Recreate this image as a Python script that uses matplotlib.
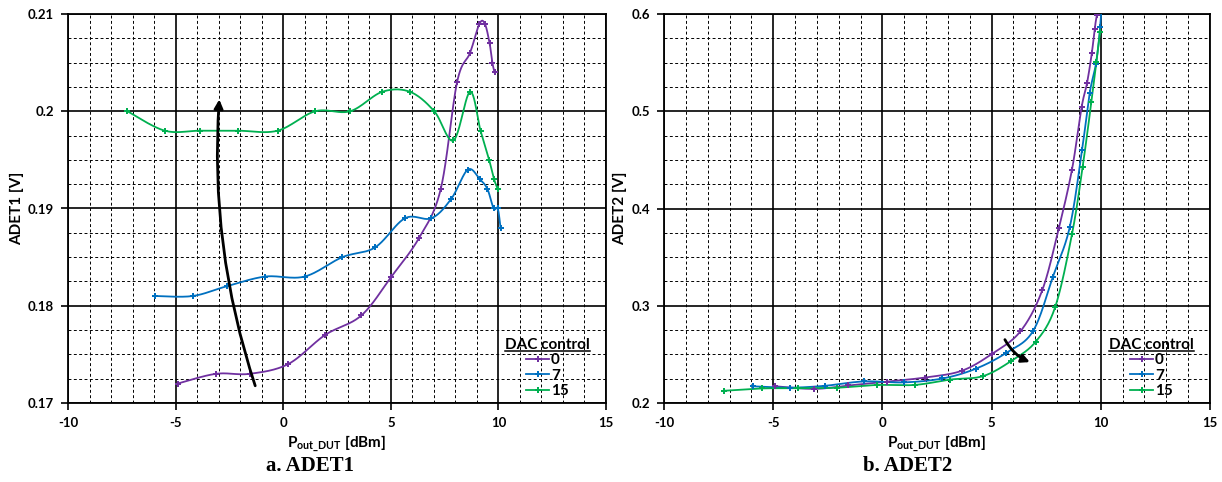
import numpy as np
import matplotlib
matplotlib.use('Agg')
import matplotlib.pyplot as plt
from matplotlib.patches import FancyArrowPatch
from matplotlib.lines import Line2D
from matplotlib.ticker import MultipleLocator, FixedLocator, FixedFormatter

plt.rcParams['font.family'] = ['Lato', 'DejaVu Sans']
plt.rcParams['font.weight'] = 'bold'
plt.rcParams['axes.unicode_minus'] = False
plt.rcParams['mathtext.fontset'] = 'custom'
plt.rcParams['mathtext.rm'] = 'Lato'
plt.rcParams['mathtext.bf'] = 'Lato:bold'

# series
dac_labels = ['0', '7', '15']
colors = ['#7030A0', '#0070C0', '#00B050']

p_dac0 = [-4.90, -3.13, -1.56, 0.23, 1.95, 3.63, 5.03, 6.32, 7.32, 8.08, 8.68, 9.12, 9.37, 9.59, 9.72, 9.82]
p_dac7 = [-5.94, -4.21, -2.63, -0.84, 0.99, 2.75, 4.27, 5.66, 6.89, 7.81, 8.58, 9.14, 9.49, 9.78, 9.97, 10.1]
p_dac15 = [-7.24, -5.50, -3.87, -2.09, -0.26, 1.49, 3.11, 4.60, 5.89, 7.02, 7.91, 8.68, 9.17, 9.57, 9.80, 9.97]

adet1_dac0 = [0.172, 0.173, 0.173, 0.174, 0.177, 0.179, 0.183, 0.187, 0.192, 0.203, 0.206, 0.209, 0.209, 0.207, 0.205, 0.204]
adet1_dac7 = [0.181, 0.181, 0.182, 0.183, 0.183, 0.185, 0.186, 0.189, 0.189, 0.191, 0.194, 0.193, 0.192, 0.190, 0.190, 0.188]
adet1_dac15 = [0.200, 0.198, 0.198, 0.198, 0.198, 0.200, 0.200, 0.202, 0.202, 0.200, 0.197, 0.202, 0.198, 0.195, 0.193, 0.192]

adet2_dac0 = [0.2172, 0.2145, 0.218, 0.222, 0.2262, 0.2331, 0.2507, 0.2737, 0.316, 0.380, 0.440, 0.504, 0.529, 0.560, 0.585, 0.599]
adet2_dac7 = [0.2172, 0.2158, 0.2177, 0.2222, 0.2212, 0.2252, 0.2352, 0.2514, 0.2737, 0.330, 0.381, 0.460, 0.5186, 0.549, 0.587, 0.630]
adet2_dac15 = [0.2126, 0.2150, 0.2152, 0.2157, 0.2185, 0.2186, 0.2241, 0.2276, 0.2431, 0.263, 0.2986, 0.3735, 0.443, 0.510, 0.551, 0.582]

xticks = [-10, -5, 0, 5, 10, 15]
adet1_ticks = [0.17, 0.18, 0.19, 0.20, 0.21]
adet1_ticklabels = ['0.17', '0.18', '0.19', '0.2', '0.21']
adet2_ticks = [0.2, 0.3, 0.4, 0.5, 0.6]
adet2_ticklabels = ['0.2', '0.3', '0.4', '0.5', '0.6']


def smooth(x, y, n=24):
    # Catmull-Rom curve through the points, like Excel's smoothed line
    pts = np.column_stack([x, y])
    pts = np.vstack([pts[0], pts, pts[-1]])
    t = np.linspace(0, 1, n, endpoint=False)[:, None]
    segs = []
    for i in range(1, len(pts) - 2):
        a, b, c, d = pts[i - 1], pts[i], pts[i + 1], pts[i + 2]
        segs.append(0.5 * (2 * b + (c - a) * t + (2 * a - 5 * b + 4 * c - d) * t ** 2
                           + (-a + 3 * b - 3 * c + d) * t ** 3))
    segs.append(pts[-2][None])
    out = np.vstack(segs)
    return out[:, 0], out[:, 1]


def style_axes(ax, yticks, ylabels, ylim, yminor):
    ax.set_xlim(-10, 15)
    ax.set_ylim(*ylim)
    ax.xaxis.set_major_locator(FixedLocator(xticks))
    ax.xaxis.set_minor_locator(MultipleLocator(1))
    ax.yaxis.set_major_locator(FixedLocator(yticks))
    ax.yaxis.set_major_formatter(FixedFormatter(ylabels))
    ax.yaxis.set_minor_locator(MultipleLocator(yminor))
    ax.grid(which='major', color='black', lw=1.2, ls='-')
    ax.grid(which='minor', color='black', lw=0.7, ls=(0, (3, 2.5)))
    ax.set_axisbelow(True)
    ax.tick_params(which='major', direction='out', length=5, width=1.2, labelsize=9.5, pad=5)
    ax.tick_params(which='minor', length=0)
    for s in ax.spines.values():
        s.set_linewidth(1.3)
        s.set_color('black')
    ax.set_xlabel(r'$\mathbf{P_{out\_DUT}}$ [dBm]', fontsize=11, fontweight='bold', labelpad=3)


def draw_series(ax, xs, ys):
    handles = []
    for x, y, c, lab in zip(xs, ys, colors, dac_labels):
        sx, sy = smooth(x, y)
        ax.plot(sx, sy, color=c, lw=1.3, zorder=3)
        ax.plot(x, y, ls='none', marker='P', ms=5, color=c, mew=0, zorder=4)
        handles.append(Line2D([], [], color=c, lw=1.3, marker='P', ms=5, mew=0, label=lab))
    leg = ax.legend(handles=handles, loc='lower right', bbox_to_anchor=(0.99, -0.015),
                    frameon=False, title='DAC control', handlelength=1.5, handletextpad=0.1,
                    labelspacing=0.1, borderpad=0.2, prop={'size': 11, 'weight': 'bold'},
                    title_fontproperties={'size': 11, 'weight': 'bold'})
    return leg


fig = plt.figure(figsize=(12.22, 4.82), dpi=100)
ax1 = fig.add_axes([68 / 1222, 79 / 482, 538 / 1222, 389 / 482])
ax2 = fig.add_axes([664 / 1222, 79 / 482, 546 / 1222, 389 / 482])

style_axes(ax1, adet1_ticks, adet1_ticklabels, (0.17, 0.21), 0.0025)
style_axes(ax2, adet2_ticks, adet2_ticklabels, (0.2, 0.6), 0.025)

leg1 = draw_series(ax1, [p_dac0, p_dac7, p_dac15], [adet1_dac0, adet1_dac7, adet1_dac15])
leg2 = draw_series(ax2, [p_dac0, p_dac7, p_dac15], [adet2_dac0, adet2_dac7, adet2_dac15])

ax1.set_ylabel('ADET1 [V]', fontsize=11, fontweight='bold', labelpad=3)
ax2.set_ylabel('ADET2 [V]', fontsize=11, fontweight='bold', labelpad=3)

ax1.add_patch(FancyArrowPatch((-1.26, 0.1715), (-2.96, 0.2015), connectionstyle='arc3,rad=-0.1',
                              arrowstyle='-|>', mutation_scale=13, lw=2, color='black', zorder=5))
ax2.add_patch(FancyArrowPatch((5.55, 0.2677), (6.87, 0.241), connectionstyle='arc3,rad=0.2',
                              arrowstyle='-|>', mutation_scale=12, lw=2, color='black', zorder=5))

fig.text(310 / 1222, 1 - 466 / 482, 'a. ADET1', family=['Liberation Serif'], fontsize=15,
         fontweight='bold', ha='center', va='center')
fig.text(908 / 1222, 1 - 466 / 482, 'b. ADET2', family=['Liberation Serif'], fontsize=15,
         fontweight='bold', ha='center', va='center')

# underline the legend titles
fig.canvas.draw()
for leg in (leg1, leg2):
    bb = leg.get_title().get_window_extent().transformed(fig.transFigure.inverted())
    fig.add_artist(Line2D([bb.x0, bb.x1], [bb.y0 + 0.002, bb.y0 + 0.002], color='black', lw=1.1,
                          transform=fig.transFigure))

fig.savefig('out.png', dpi=100)
